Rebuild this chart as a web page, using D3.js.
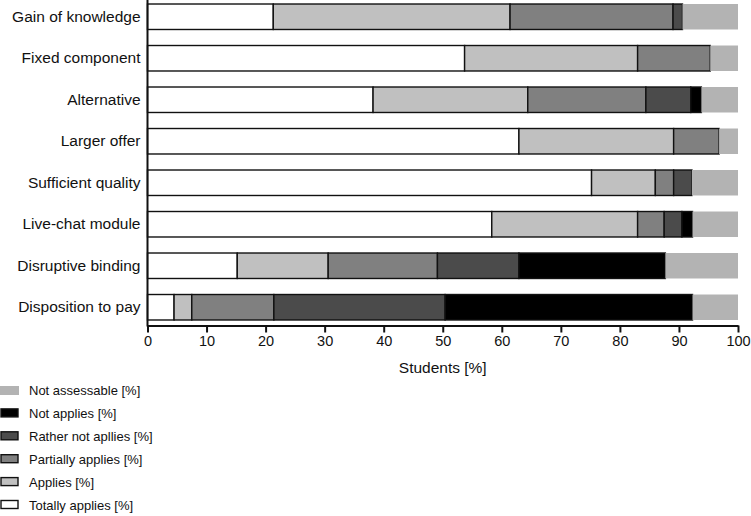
<!DOCTYPE html>
<html>
<head>
<meta charset="utf-8">
<script src="https://cdn.jsdelivr.net/npm/d3@7"></script>
<style>
  html, body { margin: 0; padding: 0; background: #fff; }
  svg { display: block; font-family: "Liberation Sans", Arial, sans-serif; }
</style>
</head>
<body>
<svg id="chart" width="751" height="516"></svg>
<script>
const categories = ["Gain of knowledge", "Fixed component", "Alternative", "Larger offer",
  "Sufficient quality", "Live-chat module", "Disruptive binding", "Disposition to pay"];
const seriesNames = ["Totally applies [%]", "Applies [%]", "Partially applies [%]",
  "Rather not apllies [%]", "Not applies [%]", "Not assessable [%]"];
const totallyApplies   = [21.3, 53.7, 38.2, 62.9, 75.2, 58.3, 15.2, 4.5];
const applies          = [40.1, 29.3, 26.2, 26.2, 10.8, 24.7, 15.4, 3.0];
const partiallyApplies = [27.6, 12.3, 20.0, 7.7, 3.1, 4.5, 18.5, 13.9];
const ratherNotApplies = [1.6, 0, 7.6, 0, 3.1, 3.0, 13.8, 29.0];
const notApplies       = [0, 0, 1.8, 0, 0, 1.8, 24.8, 41.9];
const notAssessable    = [9.4, 4.7, 6.2, 3.2, 7.8, 7.7, 12.3, 7.7];
const xTicks = [0, 10, 20, 30, 40, 50, 60, 70, 80, 90, 100];
const xTitle = "Students [%]";

const seriesValues = [totallyApplies, applies, partiallyApplies, ratherNotApplies, notApplies, notAssessable];
const fills = ["#ffffff", "#c0c0c0", "#808080", "#4b4b4b", "#000000", "#b3b3b3"];
const strokes = [true, true, true, true, true, false];

const svg = d3.select("#chart");
const x = d3.scaleLinear().domain([0, 100]).range([147.5, 738]);
const y = d3.scaleBand().domain(categories).range([-4, 328]).paddingInner(0.386).paddingOuter(0.193);
const axisY = 325.5;

const rows = categories.map((c, i) => {
  let acc = 0;
  return seriesValues.map((s, k) => {
    const seg = { cat: c, k, x0: acc, x1: acc + s[i] };
    acc += s[i];
    return seg;
  });
});

const g = svg.append("g");
rows.forEach(row => {
  g.selectAll(null).data(row.filter(d => d.x1 - d.x0 > 0)).enter().append("rect")
    .attr("x", d => x(d.x0))
    .attr("y", d => y(d.cat))
    .attr("width", d => x(d.x1) - x(d.x0))
    .attr("height", y.bandwidth())
    .attr("fill", d => fills[d.k])
    .attr("stroke", d => strokes[d.k] ? "#111" : "none")
    .attr("stroke-width", 1.4);
});

// x axis
const xAxis = d3.axisBottom(x).tickValues(xTicks).tickSize(7).tickSizeOuter(0).tickPadding(3);
const xg = svg.append("g").attr("transform", `translate(0,${axisY})`).call(xAxis);
xg.select(".domain").attr("stroke", "#111").attr("stroke-width", 2);
xg.selectAll(".tick line").attr("stroke", "#111").attr("stroke-width", 2);
xg.selectAll(".tick text").attr("font-size", 14.5).attr("fill", "#111")
  .attr("font-family", "'Liberation Sans', Arial, sans-serif");

svg.append("text").attr("x", x(50)).attr("y", 373).attr("text-anchor", "middle")
  .attr("font-size", 15.5).attr("fill", "#111").text(xTitle);

// y axis
const yAxis = d3.axisLeft(y).tickSize(0).tickPadding(7);
const yg = svg.append("g").attr("transform", `translate(${x(0)},0)`).call(yAxis);
yg.select(".domain").remove();
yg.selectAll(".tick text").attr("font-size", 15.5).attr("fill", "#111")
  .attr("font-family", "'Liberation Sans', Arial, sans-serif");
svg.append("line").attr("x1", x(0)).attr("x2", x(0)).attr("y1", 0).attr("y2", axisY + 1)
  .attr("stroke", "#111").attr("stroke-width", 2);

// legend
const legendOrder = [5, 4, 3, 2, 1, 0];
const lg = svg.append("g");
legendOrder.forEach((k, i) => {
  const cy = 390.5 + i * 22.9;
  lg.append("rect").attr("x", strokes[k] ? 1 : 0).attr("y", cy - 4.5)
    .attr("width", strokes[k] ? 17 : 19).attr("height", strokes[k] ? 8 : 9)
    .attr("fill", fills[k]).attr("stroke", strokes[k] ? "#111" : "none").attr("stroke-width", 1.4);
  lg.append("text").attr("x", 29).attr("y", cy).attr("dy", "0.35em")
    .attr("font-size", 13).attr("fill", "#111").text(seriesNames[k]);
});
</script>
</body>
</html>
